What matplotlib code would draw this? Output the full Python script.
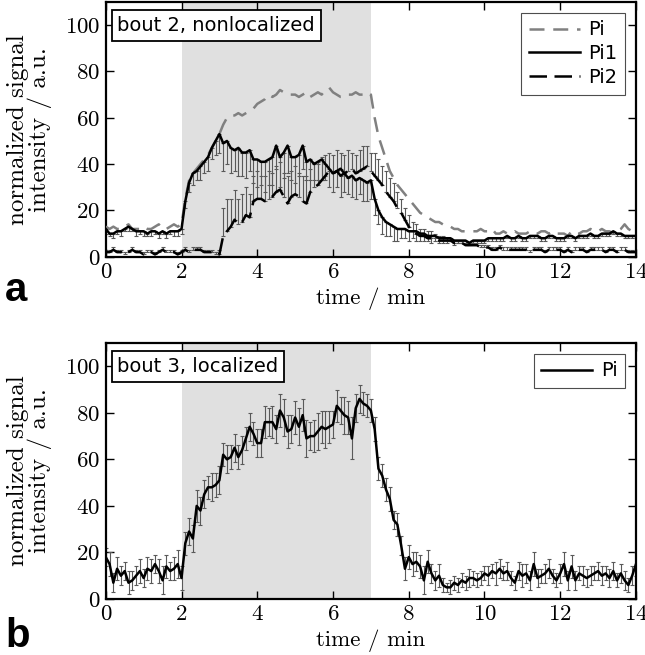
import numpy as np
import matplotlib
matplotlib.use('Agg')
import matplotlib.pyplot as plt

plt.rcParams['font.family'] = 'serif'
plt.rcParams['font.serif'] = ['cmr10']
plt.rcParams['mathtext.fontset'] = 'cm'
plt.rcParams['axes.formatter.use_mathtext'] = True
plt.rcParams['axes.unicode_minus'] = False

# time grid, minutes
t = np.round(np.arange(0, 14.01, 0.1), 1)

# panel a: bout 2, nonlocalized
pi_a = [13, 12, 13, 12, 12, 13, 14, 12, 12, 12,
        13, 12, 12, 13, 14, 12, 12, 13, 14, 13,
        14, 25, 33, 36, 38, 40, 42, 44, 47, 50,
        53, 57, 60, 61, 61, 62, 61, 62, 63, 64,
        66, 67, 68, 70, 69, 70, 72, 71, 70, 70,
        70, 69, 70, 71, 69, 70, 71, 70, 72, 73,
        71, 70, 69, 69, 70, 70, 71, 70, 70, 71,
        70, 60, 52, 47, 42, 37, 34, 31, 29, 27,
        25, 23, 21, 19, 18, 17, 16, 15, 15, 14,
        13, 13, 12, 12, 11, 11, 11, 11, 11, 12,
        11, 11, 12, 10, 10, 11, 10, 10, 11, 10,
        10, 10, 11, 10, 10, 11, 11, 10, 11, 10,
        10, 10, 9, 11, 10, 10, 11, 11, 12, 11,
        11, 12, 11, 11, 10, 11, 12, 14, 12, 11,
        10]
pi1_a = [12, 10, 10, 11, 11, 12, 13, 12, 11, 11,
         11, 10, 11, 11, 10, 11, 10, 11, 11, 11,
         12, 24, 32, 36, 37, 39, 41, 43, 47, 50,
         53, 49, 50, 47, 46, 47, 45, 45, 46, 42,
         42, 41, 41, 42, 43, 48, 43, 45, 48, 43,
         43, 44, 48, 41, 42, 40, 41, 42, 40, 38,
         36, 37, 35, 36, 34, 35, 33, 34, 33, 32,
         33, 25, 20, 17, 15, 14, 13, 12, 12, 12,
         11, 11, 11, 10, 10, 9, 9, 9, 8, 8,
         8, 8, 7, 7, 7, 7, 6, 7, 7, 7,
         7, 8, 8, 8, 8, 8, 9, 8, 8, 9,
         8, 8, 9, 9, 9, 8, 8, 9, 9, 8,
         8, 8, 9, 9, 8, 9, 9, 9, 10, 9,
         9, 10, 10, 10, 11, 10, 10, 9, 9, 9,
         9]
pi2_a = [2, 2, 3, 2, 2, 1, 2, 3, 2, 2,
         1, 2, 2, 1, 2, 3, 2, 2, 2, 1,
         2, 3, 2, 3, 3, 3, 2, 2, 2, 1,
         1, 9, 11, 13, 16, 14, 15, 18, 17, 24,
         25, 25, 24, 25, 26, 28, 29, 26, 23, 26,
         27, 26, 24, 23, 28, 30, 31, 33, 35, 37,
         36, 37, 38, 36, 37, 38, 36, 37, 38, 39,
         37, 35, 33, 31, 28, 26, 24, 21, 19, 16,
         13, 11, 10, 9, 9, 8, 8, 8, 7, 7,
         7, 7, 6, 6, 6, 5, 5, 5, 5, 4,
         4, 4, 3, 3, 4, 3, 3, 3, 3, 3,
         3, 3, 2, 3, 3, 3, 2, 3, 3, 3,
         3, 2, 3, 2, 3, 3, 3, 2, 3, 3,
         3, 3, 2, 3, 3, 2, 3, 3, 2, 2,
         2]
# Pi1 error drawn downwards, Pi2 error drawn upwards
err1_a = [2, 1, 2, 1, 2, 1, 2, 1, 2, 1,
          2, 1, 2, 1, 2, 1, 2, 1, 2, 2,
          2, 3, 4, 5, 4, 6, 5, 6, 5, 6,
          8, 12, 10, 11, 9, 12, 10, 11, 9, 10,
          12, 10, 13, 11, 12, 10, 13, 11, 12, 10,
          11, 9, 10, 8, 9, 7, 8, 9, 7, 8,
          8, 7, 9, 8, 7, 9, 8, 7, 9, 8,
          8, 7, 6, 7, 6, 5, 6, 5, 4, 4,
          4, 3, 4, 3, 3, 2, 3, 2, 2, 2,
          2, 1, 2, 1, 1, 1, 1, 1, 1, 1,
          1, 1, 1, 1, 1, 1, 1, 1, 1, 1,
          1, 1, 1, 1, 1, 1, 1, 1, 1, 1,
          1, 1, 1, 1, 1, 1, 1, 1, 1, 1,
          1, 1, 1, 1, 1, 1, 1, 1, 1, 1,
          1]
err2_a = [1, 1, 1, 1, 1, 1, 1, 1, 1, 1,
          1, 1, 1, 1, 1, 1, 1, 1, 1, 1,
          1, 1, 1, 1, 1, 1, 1, 1, 1, 1,
          2, 12, 14, 12, 13, 11, 12, 12, 10, 11,
          12, 10, 11, 12, 10, 11, 12, 10, 12, 11,
          12, 10, 11, 12, 10, 11, 9, 10, 9, 8,
          8, 9, 7, 8, 9, 7, 8, 9, 10, 9,
          8, 10, 9, 8, 9, 8, 8, 7, 6, 5,
          5, 4, 4, 3, 3, 3, 3, 2, 2, 2,
          1, 1, 1, 1, 1, 1, 1, 1, 1, 1,
          1, 1, 1, 1, 1, 1, 1, 1, 1, 1,
          1, 1, 1, 1, 1, 1, 1, 1, 1, 1,
          1, 1, 1, 1, 1, 1, 1, 1, 1, 1,
          1, 1, 1, 1, 1, 1, 1, 1, 1, 1,
          1]

# panel b: bout 3, localized
pi_b = [18, 15, 7, 13, 10, 12, 7, 8, 10, 12,
        9, 13, 12, 15, 12, 8, 14, 12, 13, 15,
        9, 24, 29, 26, 40, 38, 45, 48, 48, 49,
        51, 62, 60, 61, 65, 61, 64, 69, 74, 71,
        67, 67, 76, 76, 76, 73, 81, 78, 72, 73,
        78, 74, 79, 69, 70, 70, 72, 74, 73, 74,
        75, 83, 81, 79, 78, 69, 82, 86, 84, 83,
        81, 73, 56, 53, 47, 43, 34, 32, 23, 13,
        18, 15, 16, 14, 8, 16, 11, 8, 10, 6,
        5, 5, 7, 6, 8, 7, 9, 9, 8, 9,
        11, 10, 12, 11, 13, 11, 12, 9, 7, 12,
        10, 11, 8, 15, 9, 10, 11, 13, 10, 8,
        11, 15, 8, 14, 8, 11, 10, 9, 10, 11,
        12, 10, 11, 9, 12, 8, 11, 8, 6, 10,
        15]
err_b = [4, 5, 4, 5, 4, 4, 5, 4, 4, 5,
         4, 5, 5, 4, 5, 6, 5, 4, 5, 6,
         5, 5, 6, 6, 7, 6, 6, 5, 6, 5,
         6, 5, 6, 5, 6, 5, 6, 5, 6, 5,
         6, 6, 7, 6, 7, 6, 7, 8, 7, 6,
         7, 8, 7, 8, 6, 7, 8, 7, 8, 7,
         6, 7, 6, 8, 7, 9, 6, 6, 5, 5,
         5, 5, 5, 5, 5, 5, 4, 5, 4, 5,
         5, 5, 4, 5, 6, 5, 4, 4, 5, 3,
         2, 3, 3, 3, 3, 3, 4, 3, 3, 3,
         3, 4, 3, 5, 4, 3, 4, 3, 3, 4,
         5, 4, 4, 5, 4, 3, 4, 4, 3, 3,
         4, 5, 4, 5, 4, 3, 4, 4, 4, 3,
         4, 4, 3, 4, 4, 3, 4, 4, 3, 4,
         5]

stim_start, stim_end = 2, 7

fig = plt.figure(figsize=(6.45, 6.55), dpi=100)
ax1 = fig.add_axes([0.164, 0.608, 0.822, 0.389])
ax2 = fig.add_axes([0.164, 0.0855, 0.822, 0.3908])

ebkw = dict(fmt='none', ecolor='0.35', elinewidth=0.8, capsize=1.5,
            capthick=0.8, zorder=2)
sans = 'DejaVu Sans'

zeros = np.zeros(len(t))
ax1.axvspan(stim_start, stim_end, color='0.88', lw=0, zorder=0)
ax1.errorbar(t, pi1_a, yerr=[err1_a, zeros], **ebkw)
ax1.errorbar(t, pi2_a, yerr=[zeros, err2_a], **ebkw)
ax1.plot(t, pi_a, color='0.5', lw=1.8, dashes=(6, 3.5), label='Pi', zorder=3)
ax1.plot(t, pi1_a, color='k', lw=1.8, label='Pi1', zorder=4)
ax1.plot(t, pi2_a, color='k', lw=1.8, dashes=(7, 3), label='Pi2', zorder=4)

ax2.axvspan(stim_start, stim_end, color='0.88', lw=0, zorder=0)
ax2.errorbar(t, pi_b, yerr=err_b, **ebkw)
ax2.plot(t, pi_b, color='k', lw=1.8, label='Pi', zorder=4)

for ax, title in [(ax1, 'bout 2, nonlocalized'), (ax2, 'bout 3, localized')]:
    ax.set_xlim(0, 14)
    ax.set_ylim(0, 110)
    ax.set_xticks([0, 2, 4, 6, 8, 10, 12, 14])
    ax.set_yticks([0, 20, 40, 60, 80, 100])
    ax.tick_params(direction='in', top=True, right=True, length=6,
                   width=1, labelsize=16.5, pad=4)
    for s in ax.spines.values():
        s.set_linewidth(1.6)
    ax.set_xlabel('time / min', fontsize=16.5, labelpad=4)
    ax.set_ylabel('normalized signal\nintensity / a.u.', fontsize=18,
                  linespacing=0.95, labelpad=9)
    ax.text(0.022, 0.945, title, transform=ax.transAxes, ha='left', va='top',
            fontsize=14, family=sans, zorder=6,
            bbox=dict(boxstyle='square,pad=0.3', fc='white', ec='k', lw=1.3))
    leg = ax.legend(loc='upper right', prop={'family': sans, 'size': 14},
                    fancybox=False, edgecolor='0.3', framealpha=1,
                    handlelength=2.6, borderaxespad=0.55, labelspacing=0.25,
                    handletextpad=0.45, borderpad=0.4)
    leg.get_frame().set_linewidth(0.8)

fig.text(0.008, 0.54, 'a', fontsize=29, fontweight='bold',
         family='Liberation Sans', ha='left', va='baseline')
fig.text(0.008, 0.012, 'b', fontsize=29, fontweight='bold',
         family='Liberation Sans', ha='left', va='baseline')

fig.savefig('out.png', dpi=100)
